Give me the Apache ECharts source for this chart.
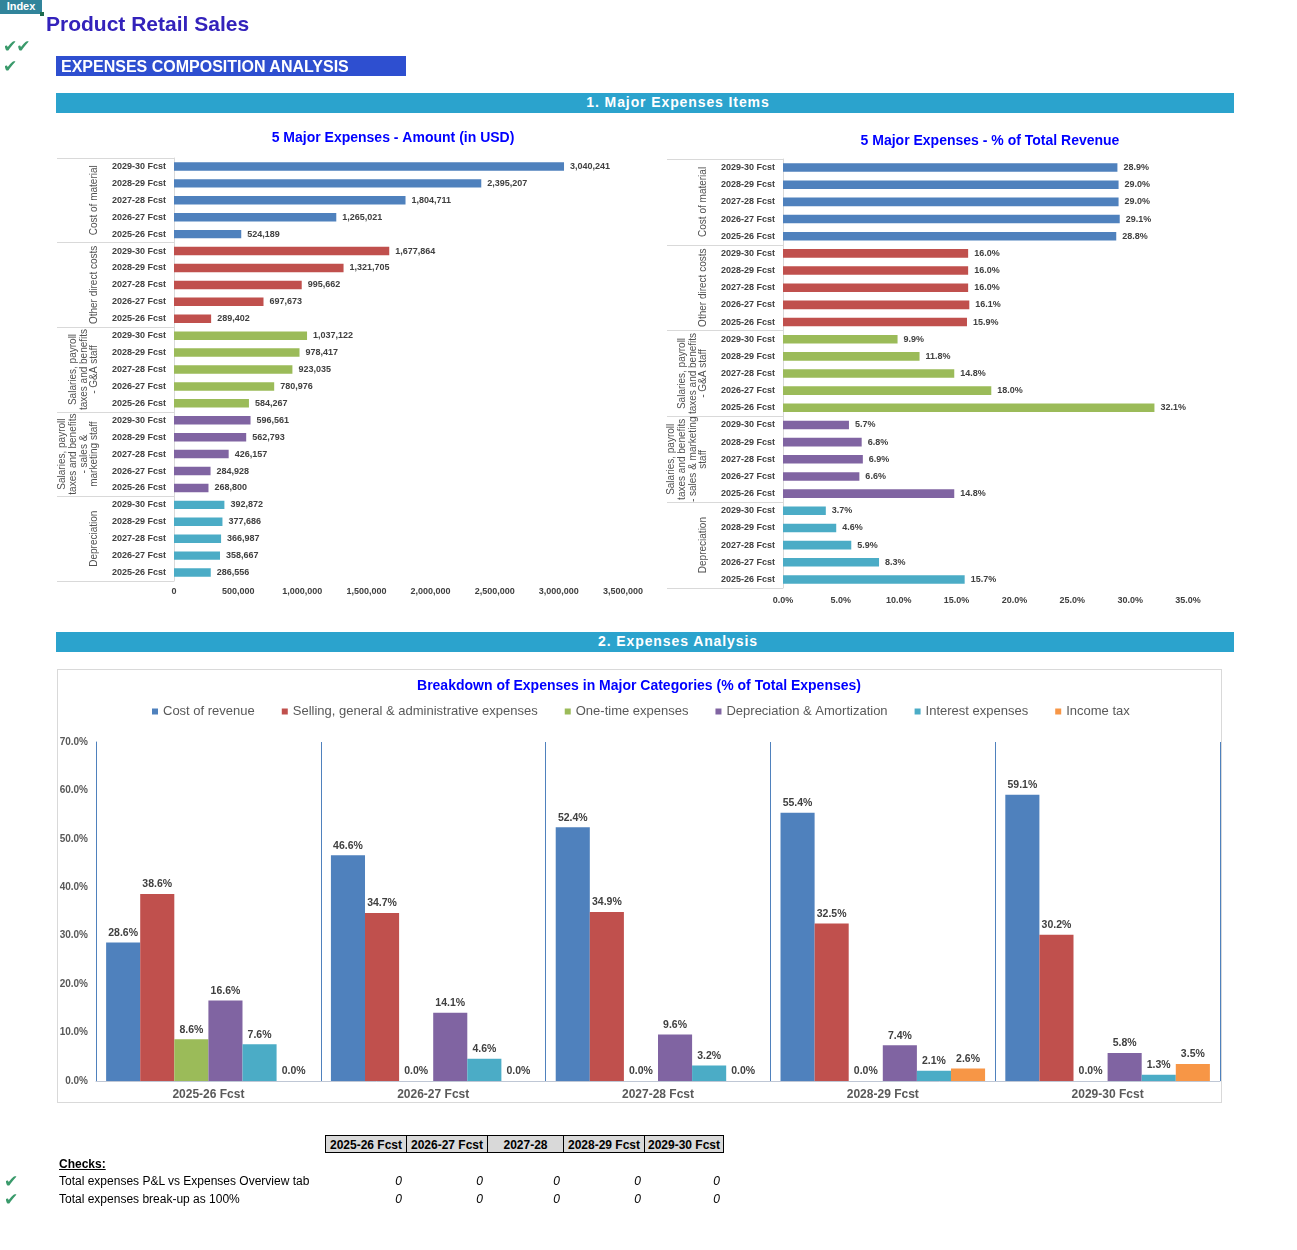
<!DOCTYPE html>
<html><head><meta charset="utf-8">
<script src="https://cdn.jsdelivr.net/npm/echarts@6/dist/echarts.min.js"></script>
<style>
body{margin:0;background:#fff;font-family:"Liberation Sans",Arial,sans-serif;}
#page{position:relative;width:1297px;height:1250px;overflow:hidden;background:#fff;}
.abs{position:absolute;white-space:nowrap;}
.chk{color:#3A9A6B;font-family:"DejaVu Sans",sans-serif;}
.banner{background:#2BA3CD;color:#fff;font-weight:bold;font-size:14px;letter-spacing:0.9px;text-align:center;padding-left:66px;box-sizing:border-box;}
.th{position:absolute;top:1135px;height:18px;border:1px solid #000;background:#D9D9D9;font-weight:bold;font-size:12px;line-height:18px;text-align:center;box-sizing:border-box;}
.row{font-size:12px;color:#000;}
.zero{font-size:12px;font-style:italic;text-align:right;width:30px;}
</style></head><body>
<div id="page">
  <div class="abs" style="left:57px;top:669px;width:1165px;height:434px;border:1px solid #d9d9d9;box-sizing:border-box;"></div>
  <div id="chart" class="abs" style="left:0;top:0;width:1297px;height:1250px;"></div>

  <div class="abs" style="left:0;top:0;width:42px;height:14px;background:#31849B;color:#fff;font-weight:bold;font-size:11px;line-height:13px;text-align:center;">Index</div>
  <div class="abs" style="left:40px;top:12px;width:4px;height:4px;background:#1E6B4E;"></div>
  <div class="abs" style="left:46px;top:11px;font-weight:bold;font-size:21px;line-height:26px;color:#3322BB;">Product Retail Sales</div>
  <div class="abs chk" style="left:3px;top:36px;font-size:17px;line-height:20px;letter-spacing:-1px;">✔✔</div>
  <div class="abs chk" style="left:3px;top:56px;font-size:17px;line-height:20px;">✔</div>
  <div class="abs" style="left:56px;top:56px;width:350px;height:20px;background:#2E4FD0;color:#fff;font-weight:bold;font-size:16px;line-height:21px;padding-left:5px;box-sizing:border-box;">EXPENSES COMPOSITION ANALYSIS</div>

  <div class="abs banner" style="left:56px;top:93px;width:1178px;height:20px;line-height:19px;">1. Major Expenses Items</div>
  <div class="abs banner" style="left:56px;top:632px;width:1178px;height:20px;line-height:19px;">2. Expenses Analysis</div>

  <div class="th" style="left:325px;width:82px;">2025-26 Fcst</div>
  <div class="th" style="left:406px;width:82px;">2026-27 Fcst</div>
  <div class="th" style="left:487px;width:77px;">2027-28</div>
  <div class="th" style="left:563px;width:82px;">2028-29 Fcst</div>
  <div class="th" style="left:644px;width:80px;">2029-30 Fcst</div>

  <div class="abs" style="left:59px;top:1157px;font-size:12px;font-weight:bold;text-decoration:underline;line-height:15px;">Checks:</div>
  <div class="abs chk" style="left:4px;top:1171px;font-size:17px;line-height:20px;">✔</div>
  <div class="abs chk" style="left:4px;top:1189px;font-size:17px;line-height:20px;">✔</div>
  <div class="abs row" style="left:59px;top:1174px;line-height:15px;">Total expenses P&amp;L vs Expenses Overview tab</div>
  <div class="abs row" style="left:59px;top:1192px;line-height:15px;">Total expenses break-up as 100%</div>
  <div class="abs zero" style="left:372px;top:1174px;">0</div>
  <div class="abs zero" style="left:453px;top:1174px;">0</div>
  <div class="abs zero" style="left:530px;top:1174px;">0</div>
  <div class="abs zero" style="left:611px;top:1174px;">0</div>
  <div class="abs zero" style="left:690px;top:1174px;">0</div>
  <div class="abs zero" style="left:372px;top:1192px;">0</div>
  <div class="abs zero" style="left:453px;top:1192px;">0</div>
  <div class="abs zero" style="left:530px;top:1192px;">0</div>
  <div class="abs zero" style="left:611px;top:1192px;">0</div>
  <div class="abs zero" style="left:690px;top:1192px;">0</div>
</div>
<script>
// ---------- DATA ----------
const years = ['2025-26 Fcst', '2026-27 Fcst', '2027-28 Fcst', '2028-29 Fcst', '2029-30 Fcst'];
const groupsAmount = ['Cost of material', 'Other direct costs', 'Salaries, payroll\ntaxes and benefits\n- G&A staff', 'Salaries, payroll\ntaxes and benefits\n- sales &\nmarketing staff', 'Depreciation'];
const groupsPct = ['Cost of material', 'Other direct costs', 'Salaries, payroll\ntaxes and benefits\n- G&A staff', 'Salaries, payroll\ntaxes and benefits\n- sales & marketing\nstaff', 'Depreciation'];

const costOfMaterialAmt = [524189, 1265021, 1804711, 2395207, 3040241];
const otherDirectAmt = [289402, 697673, 995662, 1321705, 1677864];
const gaStaffAmt = [584267, 780976, 923035, 978417, 1037122];
const salesStaffAmt = [268800, 284928, 426157, 562793, 596561];
const depreciationAmt = [286556, 358667, 366987, 377686, 392872];

const costOfMaterialPct = [28.8, 29.1, 29.0, 29.0, 28.9];
const otherDirectPct = [15.9, 16.1, 16.0, 16.0, 16.0];
const gaStaffPct = [32.1, 18.0, 14.8, 11.8, 9.9];
const salesStaffPct = [14.8, 6.6, 6.9, 6.8, 5.7];
const depreciationPct = [15.7, 8.3, 5.9, 4.6, 3.7];

const breakdownNames = ['Cost of revenue', 'Selling, general & administrative expenses', 'One-time expenses', 'Depreciation & Amortization', 'Interest expenses', 'Income tax'];
const costOfRevenue = [28.6, 46.6, 52.4, 55.4, 59.1];
const sgaExpenses = [38.6, 34.7, 34.9, 32.5, 30.2];
const oneTimeExpenses = [8.6, 0.0, 0.0, 0.0, 0.0];
const depAmort = [16.6, 14.1, 9.6, 7.4, 5.8];
const interestExpenses = [7.6, 4.6, 3.2, 2.1, 1.3];
const incomeTax = [0.0, 0.0, 0.0, 2.6, 3.5];

// ---------- STYLE ----------
const palette = ['#4F81BD', '#C0504D', '#9BBB59', '#8064A2', '#4BACC6', '#F79646'];
const FONT = '"Liberation Sans", Arial, sans-serif';

function buildCats(groups) {
  const c = [];
  groups.forEach((g, gi) => { for (let k = 4; k >= 0; k--) c.push(gi + '|' + years[k]); });
  return c;
}
function groupSeries(arrs, xi, yi, fmt) {
  return arrs.map((arr, gi) => {
    const data = [];
    for (let g = 0; g < arrs.length; g++) for (let k = 4; k >= 0; k--) data.push(g === gi ? arr[k] : '-');
    return {
      type: 'bar', xAxisIndex: xi, yAxisIndex: yi, stack: 'st' + xi, barCategoryGap: '50%',
      data: data, itemStyle: { color: palette[gi] }, silent: true,
      label: { show: true, position: 'right', distance: 6, fontFamily: FONT, fontSize: 9, fontWeight: 'bold', color: '#404040',
        formatter: p => fmt(p.value) }
    };
  });
}
const fmtAmt = v => Number(v).toLocaleString('en-US');
const fmtPct = v => Number(v).toFixed(1) + '%';

function catAxis(gridIndex, cats) {
  return {
    type: 'category', gridIndex: gridIndex, data: cats, inverse: true, position: 'left',
    axisLine: { show: true, lineStyle: { color: '#d9d9d9' } }, axisTick: { show: false },
    axisLabel: { interval: 0, margin: 8, fontFamily: FONT, fontSize: 9, fontWeight: 'bold', color: '#404040', formatter: v => v.split('|')[1] }
  };
}
function groupAxis(gridIndex, groups, len) {
  return {
    type: 'category', gridIndex: gridIndex, data: groups, inverse: true, position: 'left',
    axisLine: { show: false },
    axisTick: { show: true, interval: 0, length: len, lineStyle: { color: '#d9d9d9' } },
    axisLabel: { interval: 0, rotate: 90, margin: 74, fontFamily: FONT, fontSize: 10, lineHeight: 10.7, color: '#505050' }
  };
}

const chart = echarts.init(document.getElementById('chart'), null, { renderer: 'canvas' });
const titleStyle = { fontFamily: FONT, fontSize: 14, fontWeight: 'bold', color: '#0000FF' };

const option = {
  animation: false,
  title: [
    { text: '5 Major Expenses - Amount (in USD)', left: 393, top: 131, textAlign: 'center', padding: 0, textStyle: titleStyle },
    { text: '5 Major Expenses - % of Total Revenue', left: 990, top: 134, textAlign: 'center', padding: 0, textStyle: titleStyle },
    { text: 'Breakdown of Expenses in Major Categories (% of Total Expenses)', left: 639, top: 679, textAlign: 'center', padding: 0, textStyle: titleStyle }
  ],
  legend: {
    data: breakdownNames, left: 152, top: 705, itemWidth: 6, itemHeight: 6, itemGap: 27, icon: 'rect', padding: 0,
    textStyle: { fontFamily: FONT, fontSize: 13, color: '#595959' }
  },
  grid: [
    { left: 174, top: 158, width: 449, height: 423 },
    { left: 783, top: 159, width: 405, height: 429 },
    { left: 96, top: 742, width: 1124, height: 339 }
  ],
  xAxis: [
    { type: 'value', gridIndex: 0, min: 0, max: 3500000, interval: 500000,
      axisLine: { show: false }, axisTick: { show: false }, splitLine: { show: false },
      axisLabel: { margin: 6, fontFamily: FONT, fontSize: 9, fontWeight: 'bold', color: '#404040', formatter: fmtAmt } },
    { type: 'value', gridIndex: 1, min: 0, max: 35, interval: 5,
      axisLine: { show: false }, axisTick: { show: false }, splitLine: { show: false },
      axisLabel: { margin: 8, fontFamily: FONT, fontSize: 9, fontWeight: 'bold', color: '#404040', formatter: fmtPct } },
    { type: 'category', gridIndex: 2, data: years,
      axisLine: { show: true, lineStyle: { color: '#bfc7d5' } }, axisTick: { show: false },
      splitLine: { show: true, lineStyle: { color: '#4F81BD', width: 1 } },
      axisLabel: { margin: 8, fontFamily: FONT, fontSize: 12, fontWeight: 'bold', color: '#595959' } }
  ],
  yAxis: [
    catAxis(0, buildCats(groupsAmount)),
    groupAxis(0, groupsAmount, 117),
    catAxis(1, buildCats(groupsPct)),
    groupAxis(1, groupsPct, 116),
    { type: 'value', gridIndex: 2, min: 0, max: 70, interval: 10,
      axisLine: { show: true, lineStyle: { color: '#4F81BD' } }, axisTick: { show: false }, splitLine: { show: false },
      axisLabel: { margin: 8, fontFamily: FONT, fontSize: 10, fontWeight: 'bold', color: '#595959', formatter: fmtPct } }
  ],
  series: [
    ...groupSeries([costOfMaterialAmt, otherDirectAmt, gaStaffAmt, salesStaffAmt, depreciationAmt], 0, 0, fmtAmt),
    ...groupSeries([costOfMaterialPct, otherDirectPct, gaStaffPct, salesStaffPct, depreciationPct], 1, 2, fmtPct),
    ...[costOfRevenue, sgaExpenses, oneTimeExpenses, depAmort, interestExpenses, incomeTax].map((arr, i) => ({
      type: 'bar', name: breakdownNames[i], xAxisIndex: 2, yAxisIndex: 4, data: arr,
      barGap: '0%', barCategoryGap: '9%', itemStyle: { color: palette[i] }, silent: true,
      label: { show: true, position: 'top', distance: 4, fontFamily: FONT, fontSize: 10.5, fontWeight: 'bold', color: '#404040', formatter: p => fmtPct(p.value) }
    }))
  ]
};
chart.setOption(option);
</script>
</body></html>
